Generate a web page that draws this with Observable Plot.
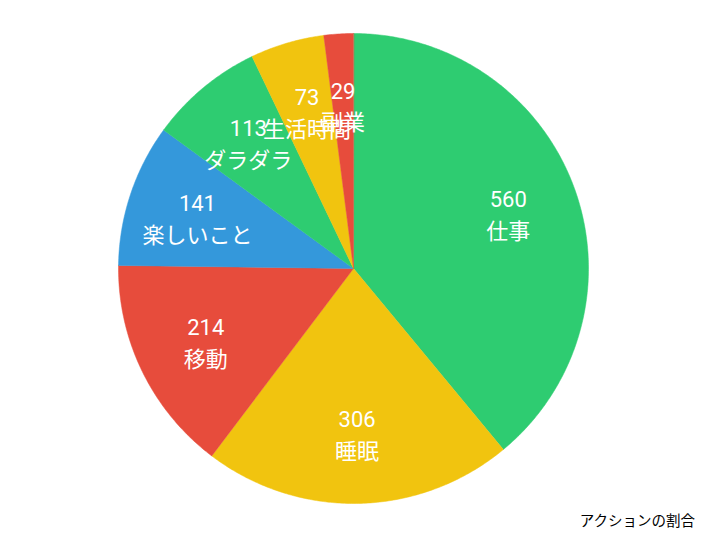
<!DOCTYPE html>
<html><head><meta charset="utf-8">
<script src="https://cdn.jsdelivr.net/npm/d3@7"></script>
<script src="https://cdn.jsdelivr.net/npm/@observablehq/plot@0.6"></script>
<style>
body{margin:0;background:#fff;font-family:"Noto Sans CJK JP","Noto Sans",sans-serif;}
#cap{width:706px;text-align:right;font-size:14.5px;color:#000;box-sizing:border-box;padding-right:11px;margin-top:0px;line-height:20px;}
</style></head>
<body>
<div id="chart"></div>
<div id="cap">アクションの割合</div>
<script>
const names = ["仕事","睡眠","移動","楽しいこと","ダラダラ","生活時間","副業"];
const values = [560,306,214,141,113,73,29];
const colors = ["#2ecc71","#f1c40f","#e74c3c","#3498db","#2ecc71","#f1c40f","#e74c3c"];

const data = names.map((n,i)=>({name:n,value:values[i],color:colors[i]}));
const arcs = d3.pie().sort(null).value(d=>d.value)(data);
const pt = (a,r)=>[Math.sin(a)*r, -Math.cos(a)*r];
const features = arcs.map(a=>{
  const n = Math.max(2, Math.ceil((a.endAngle-a.startAngle)/0.01));
  const ring=[[0,0]];
  for(let k=0;k<=n;k++) ring.push(pt(a.startAngle+(a.endAngle-a.startAngle)*k/n,1));
  ring.push([0,0]);
  return {type:"Feature",properties:{color:a.data.color},geometry:{type:"Polygon",coordinates:[ring]}};
});
const labels = arcs.map(a=>{
  const m=(a.startAngle+a.endAngle)/2; const p=pt(m,0.7);
  return {x:p[0],y:p[1],text:a.data.value+"\n"+a.data.name};
});
const chart = Plot.plot({
  width:706,height:510,
  marginLeft:118,marginRight:118,marginTop:33,marginBottom:7,
  projection:{type:"identity",domain:{type:"MultiPoint",coordinates:[[-1,-1],[1,1]]}},
  color:{type:"identity"},
  style:{fontFamily:'Roboto,"Noto Sans CJK JP","Noto Sans",sans-serif'},
  marks:[
    Plot.geo(features,{fill:d=>d.properties.color,stroke:d=>d.properties.color,strokeWidth:0.5}),
    Plot.text(labels,{x:"x",y:"y",text:"text",fill:"white",fontSize:22,lineHeight:1.45})
  ]
});
document.getElementById("chart").appendChild(chart);
</script>
</body></html>
